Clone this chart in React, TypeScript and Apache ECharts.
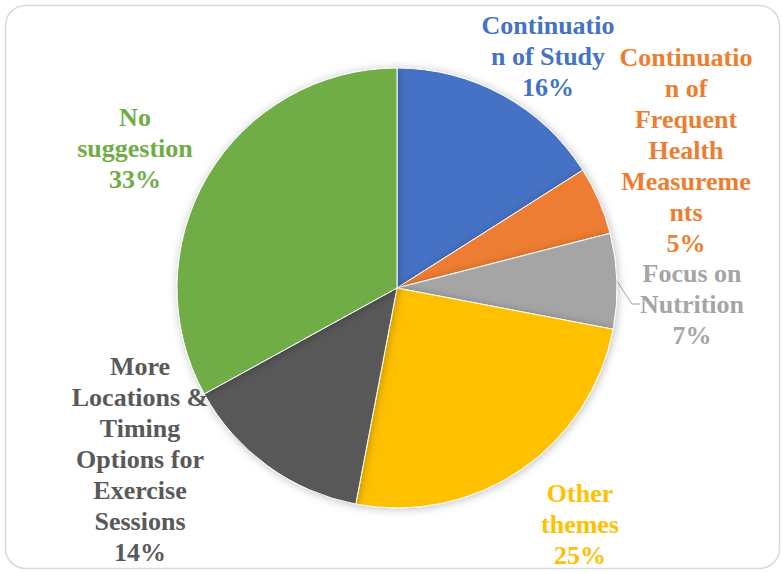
import React, { useEffect, useRef } from "react";
import * as echarts from "echarts";

const categories = [
  "Continuation of Study",
  "Continuation of Frequent Health Measurements",
  "Focus on Nutrition",
  "Other themes",
  "More Locations & Timing Options for Exercise Sessions",
  "No suggestion",
];
const values = [16, 5, 7, 25, 14, 33];
const wrappedLabels = [
  "Continuatio\nn of Study",
  "Continuatio\nn of\nFrequent\nHealth\nMeasureme\nnts",
  "Focus on\nNutrition",
  "Other\nthemes",
  "More\nLocations &\nTiming\nOptions for\nExercise\nSessions",
  "No\nsuggestion",
];
const colors = ["#4472C4", "#ED7D31", "#A5A5A5", "#FFC000", "#595959", "#70AD47"];
const labelCenters = [
  [548, 56],
  [686, 150],
  [692, 304],
  [580, 524],
  [140, 459],
  [135, 148],
];

const FONT = "Liberation Serif";

export default function App() {
  const ref = useRef<HTMLDivElement>(null);
  useEffect(() => {
    document.body.style.margin = "0";
    const chart = echarts.init(ref.current!, undefined, { renderer: "svg" });
    chart.setOption({
      animation: false,
      backgroundColor: "#ffffff",
      graphic: [
        {
          type: "rect",
          shape: { x: 5.5, y: 5.5, width: 774, height: 563, r: 20 },
          style: { fill: "none", stroke: "#D9D9D9", lineWidth: 1.5 },
          z: -1,
        },
      ],
      series: [
        {
          type: "pie",
          center: [397, 288],
          radius: [0, 220],
          startAngle: 90,
          clockwise: true,
          data: categories.map((name, i) => ({
            name,
            value: values[i],
            itemStyle: { color: colors[i] },
            label: { color: colors[i] },
            labelLine: { show: i === 2, lineStyle: { color: "#A5A5A5", width: 1 } },
          })),
          itemStyle: {
            borderColor: "#ffffff",
            borderWidth: 1,
            shadowBlur: 8,
            shadowColor: "rgba(0,0,0,0.25)",
            shadowOffsetX: 1,
            shadowOffsetY: 1,
          },
          label: {
            show: true,
            position: "outside",
            formatter: (p: any) => `${wrappedLabels[p.dataIndex]}\n${p.value}%`,
            fontFamily: FONT,
            fontWeight: "bold",
            fontSize: 26,
            lineHeight: 31,
            align: "center",
          },
          labelLine: { length: 8, length2: 8, smooth: false },
          labelLayout: (params: any) => {
            const c = labelCenters[params.dataIndex];
            return { x: c[0], y: c[1], align: "center", verticalAlign: "middle" };
          },
          emphasis: { disabled: true },
        },
      ],
    });
    return () => chart.dispose();
  }, []);
  return <div ref={ref} style={{ width: 782, height: 573 }} />;
}
